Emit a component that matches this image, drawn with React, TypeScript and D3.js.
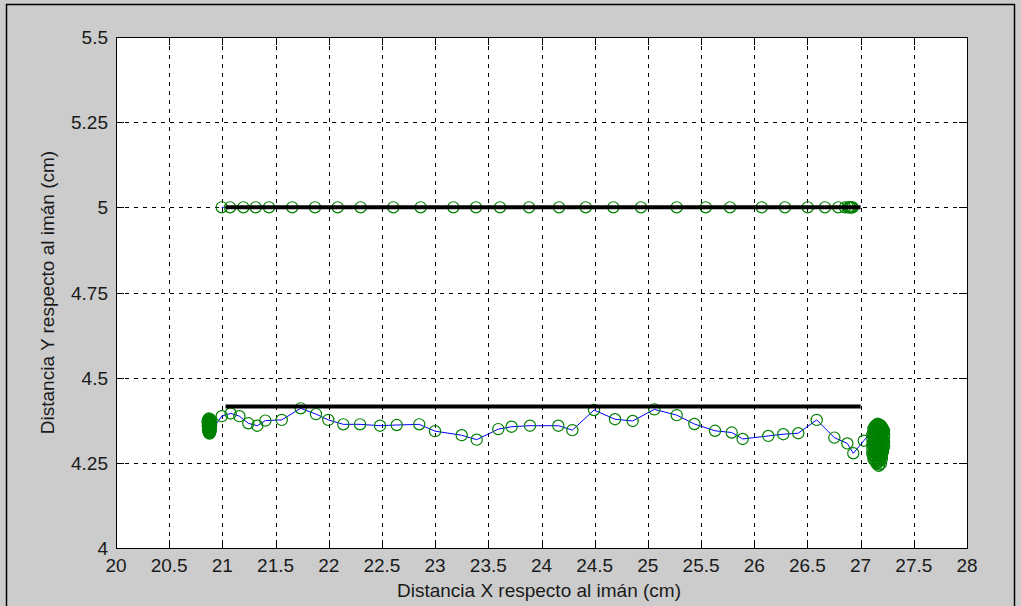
import React from "react";
import * as d3 from "d3";

// Target trajectories (straight reference lines)
const refStartX = 21.03;
const refEndX = 27.0;
const upperRefY = 5.0;
const lowerRefY = 4.415;

// Upper pass: sampled positions (x, y) in cm
const upperPass: [number, number][] = [
  [20.994, 5.0], [21.072, 5.0], [21.197, 5.0], [21.313, 5.0], [21.438, 5.0],
  [21.657, 5.0], [21.871, 5.0], [22.084, 5.0], [22.3, 5.0], [22.607, 5.0],
  [22.864, 5.0], [23.171, 5.0], [23.384, 5.0], [23.61, 5.0], [23.883, 5.0],
  [24.165, 5.0], [24.416, 5.0], [24.675, 5.0], [24.935, 5.0], [25.271, 5.0],
  [25.544, 5.0], [25.772, 5.0], [26.07, 5.0], [26.289, 5.0], [26.503, 5.0],
  [26.665, 5.0], [26.79, 5.0], [26.853, 5.0], [26.881, 5.0], [26.895, 5.0],
  [26.905, 5.0], [26.915, 5.0], [26.925, 5.0],
];

// Lower pass: resting samples at the start
const lowerStart: [number, number][] = [
  [20.872, 4.38], [20.885, 4.378], [20.866, 4.376], [20.877, 4.377], [20.879, 4.374],
  [20.874, 4.375], [20.892, 4.372], [20.869, 4.373], [20.861, 4.37], [20.868, 4.37],
  [20.884, 4.369], [20.874, 4.368], [20.887, 4.366], [20.879, 4.365], [20.868, 4.364],
  [20.89, 4.363], [20.881, 4.362], [20.872, 4.361], [20.894, 4.36], [20.871, 4.359],
  [20.863, 4.358], [20.884, 4.357], [20.886, 4.357], [20.876, 4.356], [20.889, 4.354],
  [20.881, 4.353], [20.87, 4.352], [20.877, 4.351], [20.883, 4.35], [20.865, 4.348],
  [20.886, 4.347], [20.878, 4.346], [20.872, 4.345], [20.891, 4.344], [20.869, 4.342],
  [20.876, 4.341], [20.882, 4.34], [20.873, 4.338], [20.88, 4.336],
];

// Lower pass: moving samples
const lowerMove: [number, number][] = [
  [20.994, 4.387], [21.078, 4.395], [21.16, 4.387], [21.244, 4.366], [21.328, 4.359],
  [21.404, 4.374], [21.558, 4.376], [21.736, 4.41], [21.88, 4.393], [21.996, 4.376],
  [22.137, 4.363], [22.294, 4.363], [22.482, 4.359], [22.639, 4.361], [22.851, 4.363],
  [22.999, 4.343], [23.25, 4.331], [23.391, 4.318], [23.594, 4.349], [23.719, 4.356],
  [23.892, 4.359], [24.158, 4.359], [24.29, 4.346], [24.494, 4.405], [24.691, 4.378],
  [24.857, 4.373], [25.061, 4.407], [25.271, 4.39], [25.437, 4.364], [25.631, 4.344],
  [25.788, 4.339], [25.891, 4.32], [26.132, 4.329], [26.273, 4.334], [26.414, 4.337],
  [26.587, 4.376], [26.753, 4.324], [26.875, 4.307], [26.931, 4.278], [27.03, 4.315],
];

// Lower pass: resting samples at the end
const lowerEnd: [number, number][] = [
  [27.16, 4.365], [27.165, 4.362], [27.175, 4.362], [27.14, 4.36], [27.19, 4.36],
  [27.155, 4.358], [27.185, 4.358], [27.13, 4.355], [27.17, 4.355], [27.2, 4.355],
  [27.12, 4.35], [27.16, 4.35], [27.21, 4.35], [27.13, 4.347], [27.175, 4.347], [27.2, 4.347],
  [27.14, 4.344], [27.19, 4.344], [27.22, 4.344], [27.155, 4.341], [27.185, 4.341], [27.205, 4.341],
  [27.12, 4.338], [27.17, 4.338], [27.21, 4.338], [27.13, 4.335], [27.17, 4.335], [27.2, 4.335],
  [27.11, 4.332], [27.15, 4.332], [27.19, 4.332], [27.22, 4.332], [27.12, 4.328], [27.16, 4.328],
  [27.2, 4.328], [27.13, 4.325], [27.18, 4.325], [27.22, 4.325], [27.14, 4.321], [27.185, 4.321],
  [27.21, 4.321], [27.11, 4.318], [27.16, 4.318], [27.2, 4.318], [27.13, 4.314], [27.19, 4.314],
  [27.12, 4.311], [27.17, 4.311], [27.22, 4.311], [27.14, 4.307], [27.18, 4.307], [27.21, 4.307],
  [27.11, 4.304], [27.15, 4.304], [27.2, 4.304], [27.12, 4.3], [27.165, 4.3], [27.2, 4.3],
  [27.13, 4.297], [27.18, 4.297], [27.22, 4.297], [27.14, 4.293], [27.19, 4.293], [27.11, 4.29],
  [27.16, 4.29], [27.21, 4.29], [27.13, 4.286], [27.175, 4.286], [27.2, 4.286], [27.12, 4.283],
  [27.17, 4.283], [27.21, 4.283], [27.135, 4.279], [27.185, 4.279], [27.11, 4.276], [27.15, 4.276],
  [27.2, 4.276], [27.12, 4.272], [27.165, 4.272], [27.2, 4.272], [27.13, 4.269], [27.18, 4.269],
  [27.145, 4.265], [27.19, 4.265], [27.12, 4.262], [27.16, 4.262], [27.2, 4.262], [27.13, 4.258],
  [27.17, 4.258], [27.14, 4.255], [27.18, 4.255], [27.16, 4.251], [27.15, 4.248], [27.19, 4.248],
  [27.175, 4.245], [27.17, 4.241],
];

const xTicks = [20, 20.5, 21, 21.5, 22, 22.5, 23, 23.5, 24, 24.5, 25, 25.5, 26, 26.5, 27, 27.5, 28];
const yTicks = [4, 4.25, 4.5, 4.75, 5, 5.25, 5.5];

const W = 1021;
const H = 606;
const plot = { left: 116, right: 967, top: 37, bottom: 548 };
const font = "'Liberation Sans', Arial, Helvetica, sans-serif";
const green = "#008000";
const blue = "#0000ff";

export default function App() {
  const x = d3.scaleLinear().domain([20, 28]).range([plot.left, plot.right]);
  const y = d3.scaleLinear().domain([4, 5.5]).range([plot.bottom, plot.top]);
  const line = d3
    .line<[number, number]>()
    .x((d) => x(d[0]))
    .y((d) => y(d[1]));

  const lowerPass = [...lowerStart, ...lowerMove, ...lowerEnd];
  const tickLen = 8;
  const px = (v: number) => Math.round(v) + 0.5;

  return (
    <svg
      width={W}
      height={H}
      style={{ position: "absolute", left: 0, top: 0, display: "block" }}
    >
      <rect x={0} y={0} width={W} height={H} fill="#cccccc" />
      <rect x={6.5} y={4.5} width={1008} height={700} fill="none" stroke="#000" strokeWidth={1.5} />
      <rect
        x={plot.left}
        y={plot.top}
        width={plot.right - plot.left}
        height={plot.bottom - plot.top}
        fill="#ffffff"
      />
      {/* grid */}
      <g stroke="#000" strokeWidth={1} strokeDasharray="4,5">
        {xTicks.slice(1, -1).map((t) => (
          <line key={"gx" + t} x1={px(x(t))} x2={px(x(t))} y1={plot.top} y2={plot.bottom} />
        ))}
        {yTicks.slice(1, -1).map((t) => (
          <line key={"gy" + t} x1={plot.left} x2={plot.right} y1={px(y(t))} y2={px(y(t))} />
        ))}
      </g>
      {/* tick marks */}
      <g stroke="#000" strokeWidth={1}>
        {xTicks.map((t) => (
          <g key={"tx" + t}>
            <line x1={px(x(t))} x2={px(x(t))} y1={plot.bottom} y2={plot.bottom - tickLen} />
            <line x1={px(x(t))} x2={px(x(t))} y1={plot.top} y2={plot.top + tickLen} />
          </g>
        ))}
        {yTicks.map((t) => (
          <g key={"ty" + t}>
            <line x1={plot.left} x2={plot.left + tickLen} y1={px(y(t))} y2={px(y(t))} />
            <line x1={plot.right} x2={plot.right - tickLen} y1={px(y(t))} y2={px(y(t))} />
          </g>
        ))}
      </g>
      {/* trajectories */}
      <path d={line(upperPass) || ""} fill="none" stroke={blue} strokeWidth={1} />
      <path d={line(lowerPass) || ""} fill="none" stroke={blue} strokeWidth={1} />
      <g fill="none" stroke={green} strokeWidth={1.2}>
        {upperPass.map((d, i) => (
          <circle key={"u" + i} cx={x(d[0])} cy={y(d[1])} r={5.6} />
        ))}
        {lowerPass.map((d, i) => (
          <circle key={"l" + i} cx={x(d[0])} cy={y(d[1])} r={5.6} />
        ))}
      </g>
      {/* reference lines */}
      <line x1={x(refStartX)} x2={x(refEndX)} y1={y(upperRefY)} y2={y(upperRefY)} stroke="#000" strokeWidth={4} />
      <line x1={x(refStartX)} x2={x(refEndX)} y1={y(lowerRefY)} y2={y(lowerRefY)} stroke="#000" strokeWidth={4} />
      {/* axes box */}
      <rect
        x={plot.left + 0.5}
        y={plot.top + 0.5}
        width={plot.right - plot.left}
        height={plot.bottom - plot.top}
        fill="none"
        stroke="#000"
        strokeWidth={1}
      />
      {/* tick labels */}
      <g fontFamily={font} fontSize={19} fill="#1a1a1a">
        {xTicks.map((t) => (
          <text key={"lx" + t} x={x(t)} y={572} textAnchor="middle">
            {String(t)}
          </text>
        ))}
        {yTicks.map((t) => (
          <text key={"ly" + t} x={plot.left - 8} y={y(t) + 7} textAnchor="end">
            {String(t)}
          </text>
        ))}
      </g>
      {/* axis titles */}
      <text x={539} y={597} textAnchor="middle" fontFamily={font} fontSize={19} fill="#1a1a1a">
        Distancia X respecto al imán (cm)
      </text>
      <text
        transform={`translate(54, ${(plot.top + plot.bottom) / 2}) rotate(-90)`}
        textAnchor="middle"
        fontFamily={font}
        fontSize={19}
        fill="#1a1a1a"
      >
        Distancia Y respecto al imán (cm)
      </text>
    </svg>
  );
}
